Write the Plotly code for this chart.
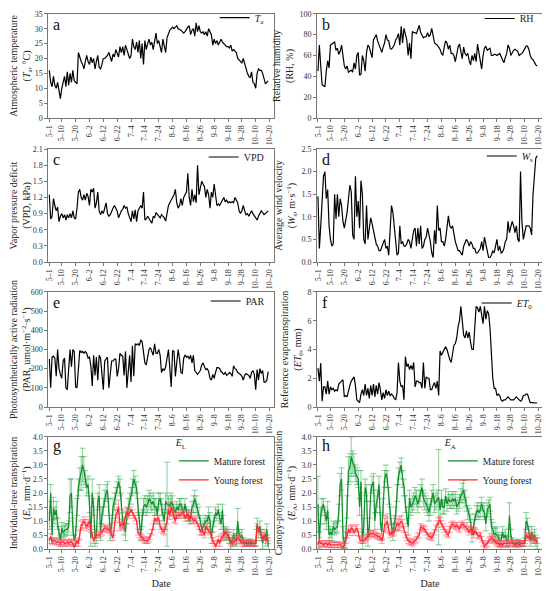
import plotly.graph_objects as go

# x axis: one point per sampled day, labelled every 10 points
tick_labels = ["5–1", "5–10", "5–20", "6–2", "6–12", "6–22", "7–4", "7–14", "7–24",
               "8–6", "8–16", "8–26", "9–8", "9–18", "9–28", "10–10", "10–20"]
tick_pos = [0, 9, 19, 29, 39, 49, 59, 69, 79, 89, 99, 109, 119, 129, 139, 149, 159]

# a) air temperature, degC
ta = [16, 12, 10.5, 14, 11, 10, 12, 8.5, 6.5, 10,
      12, 14, 10.5, 15.5, 11, 15, 12, 16, 12.5, 12,
      11.5, 22, 20, 19, 18, 16.5, 19, 21, 19, 18,
      20.5, 18.5, 20, 16.5, 19, 21, 17, 16.5, 18, 20,
      20, 20.5, 21, 22, 20, 19, 21.5, 20.5, 23, 21.5,
      20.5, 24, 22, 24, 21, 24.5, 23, 22, 20, 21,
      26.5, 24, 23, 25.5, 22, 26, 20, 25, 18, 26,
      23, 25, 26.5, 24.5, 25.5, 23, 26, 28.5, 25, 26,
      24, 22, 26.5, 24, 22, 27, 28.5, 29.5, 30, 30.5,
      30, 30.5, 31, 30, 29.8, 29.5, 29, 28.5, 29, 30,
      30.5, 31, 28, 29.5, 30, 27.5, 32, 29, 31, 29,
      28.5, 29, 28, 29, 27.5, 30, 29, 28, 24.5, 26.5,
      25, 26, 24.5, 25.5, 26.5, 25.5, 25, 24.5, 24, 24,
      23.5, 24.5, 22.5, 23, 22.5, 22, 20, 19.5, 19, 18.5,
      20, 18, 16, 15, 14, 13.5, 15.5, 12, 11.5, 10,
      15, 16.5, 16, 16, 15, 13, 11.5, 12, 12.5]

# b) relative humidity, %
rh = [45, 70, 50, 32, 31, 30, 45, 55, 48, 70,
      71, 72, 73, 65, 67, 61, 64, 70, 62, 50,
      47, 50, 44, 45, 46, 44, 53, 47, 60, 63,
      41, 42, 60, 55, 45, 63, 70, 68, 62, 58,
      75, 78, 80, 74, 70, 65, 63, 68, 72, 80,
      75, 74, 67, 66, 68, 70, 75, 77, 81, 70,
      88, 72, 86, 80, 75, 60, 72, 57, 83, 82,
      82, 81, 86, 89, 82, 80, 77, 78, 78, 82,
      78, 80, 86, 79, 72, 71, 70, 68, 66, 62,
      60, 68, 74, 72, 66, 70, 62, 62, 60, 54,
      62, 68, 71, 64, 57, 68, 62, 60, 62, 55,
      51, 60, 55, 62, 54, 71, 62, 52, 47, 60,
      67, 69, 65, 66, 67, 60, 60, 61, 61, 60,
      61, 62, 59, 55, 53, 58, 62, 70, 67, 60,
      63, 65, 66, 65, 64, 60, 61, 62, 64, 67,
      69, 69, 66, 60, 57, 56, 53, 51, 50]

# c) vapour pressure deficit, kPa
vpd = [1.25, 0.8, 0.85, 1.18, 1.05, 0.95, 1.02, 0.75, 0.85, 0.9,
       0.82, 0.88, 0.78, 0.88, 0.82, 0.9, 0.82, 0.95, 0.82, 0.8,
       1.0, 1.3, 1.35, 1.2, 1.15, 1.25, 1.15, 1.28, 1.22, 1.05,
       1.35, 1.3, 1.37, 1.0, 1.1, 1.3, 0.95, 0.88, 0.95, 0.9,
       1.0, 1.1, 0.9, 0.85, 0.88, 0.95, 1.0, 1.05, 1.0, 0.95,
       0.82, 0.9, 0.95, 0.98, 1.05, 1.0, 1.02, 0.9, 0.8, 0.75,
       0.95, 0.8, 0.97, 0.75, 0.95, 1.0, 1.05, 1.0, 1.3, 0.78,
       0.8, 0.85, 0.8, 0.75, 0.72, 0.85, 0.82, 0.92, 0.88, 0.85,
       0.82, 0.88, 0.85, 0.82, 0.76, 0.9, 1.05, 1.1, 1.15, 1.2,
       1.25, 1.35, 1.1, 1.0, 1.05, 1.18, 1.05, 1.2, 1.25, 1.3,
       1.65, 1.2, 1.05, 1.35, 1.12, 1.25, 1.1, 1.8, 1.25, 1.35,
       1.5, 1.45, 1.4, 1.2, 1.35, 1.25, 1.0, 1.3, 1.2, 1.45,
       1.2, 1.05, 1.08, 1.05, 1.1, 1.15, 1.2, 1.12, 1.15, 1.1,
       1.12, 1.1, 1.12, 1.1, 1.2, 1.15, 1.1, 0.95, 0.9, 0.95,
       1.05, 0.95, 0.88, 0.9, 0.85, 0.9, 0.95, 0.9, 0.85, 0.8,
       0.78, 0.85, 0.9, 0.95, 0.92, 0.88, 0.9, 0.92, 0.95]

# d) wind speed, m/s
ws = [1.45, 0.3, 0.8, 1.5, 1.9, 2.0, 1.4, 1.6, 0.8, 0.5,
      0.35, 0.4, 1.5, 0.95, 1.5, 1.0, 1.4, 1.25, 0.9, 0.75,
      0.9, 1.1, 1.4, 1.7, 1.55, 0.6, 0.5, 1.9, 1.0, 1.35,
      0.75, 1.8, 1.5, 0.5, 0.4, 1.25, 0.5, 0.7, 0.98, 0.85,
      0.7, 0.55, 0.4, 0.35, 0.25, 0.25, 0.35, 0.45, 0.5, 0.3,
      0.35, 0.15, 0.8, 1.25, 1.1, 0.8, 0.4, 0.15, 0.2, 0.8,
      0.4, 0.45, 0.35, 0.35, 0.4, 0.5, 0.45, 0.3, 0.5, 0.7,
      0.75, 0.35, 0.75, 0.4, 0.8, 0.3, 0.35, 0.5, 0.55, 0.75,
      0.6, 0.45, 0.2, 0.1, 0.7, 0.4, 1.25, 0.7, 0.75, 0.45,
      0.45, 0.35, 0.5, 0.8, 1.02, 0.8, 0.75, 0.8, 0.6, 0.45,
      0.35, 0.25, 0.25, 0.2, 0.15, 0.35, 0.45, 0.5, 0.45, 0.35,
      0.45, 0.4, 0.3, 0.3, 0.2, 0.2, 0.25, 0.3, 0.45, 0.25,
      0.55, 0.4, 0.2, 0.1, 0.1, 0.15, 0.25, 0.2, 0.35, 0.5,
      0.25, 0.35, 0.2, 0.22, 0.3, 0.45, 0.5, 0.9, 0.65, 0.75,
      0.9, 0.8, 0.65, 0.8, 0.5, 0.45, 2.0, 0.9, 0.5, 0.65,
      0.8, 0.8, 0.8, 0.75, 0.6, 1.5, 1.9, 2.3, 2.35]

# e) photosynthetically active radiation
par = [250, 100, 260, 265, 255, 160, 300, 200, 170, 150,
       240, 255, 100, 90, 200, 300, 210, 300, 290, 105,
       100, 200, 295, 285, 290, 280, 290, 280, 255, 260,
       215, 110, 270, 165, 260, 140, 270, 255, 170, 90,
       240, 250, 260, 100, 170, 240, 240, 250, 250, 160,
       200, 280, 270, 265, 165, 290, 100, 190, 270, 130,
       320, 160, 330, 325, 330, 320, 350, 340, 280, 230,
       220, 270, 300, 310, 290, 270, 330, 280, 280, 300,
       270, 180, 200, 190, 210, 250, 300, 200, 105, 295,
       290, 160, 230, 300, 250, 180, 175, 255, 270, 260,
       265, 250, 270, 230, 270, 190, 180, 170, 180, 190,
       220, 230, 210, 195, 200, 185, 150, 140, 170, 150,
       180, 205, 205, 200, 185, 175, 170, 180, 165, 170,
       180, 175, 160, 215, 200, 195, 180, 175, 170, 160,
       140, 165, 175, 170, 165, 150, 180, 190, 170, 90,
       195, 140, 200, 175, 190, 130, 130, 140, 185]

# f) reference evapotranspiration, mm
et0 = [2.7, 1.8, 3.05, 0.4, 1.4, 1.4, 0.9, 1.8, 0.9, 1.4,
       1.2, 1.3, 1.1, 1.2, 1.1, 1.6, 1.7, 1.8, 1.9, 0.7,
       0.8, 0.7, 1.2, 1.5, 1.8, 2.0, 2.1, 1.5, 0.5, 0.4,
       0.3, 0.9, 1.2, 0.8, 1.6, 0.8, 1.3, 0.6, 1.5, 0.8,
       1.6, 0.7, 1.5, 0.9, 1.7, 1.2, 0.5, 1.0, 0.6, 1.2,
       0.8, 1.1, 0.8, 0.9, 0.8, 0.6, 0.5, 1.0, 3.1, 1.8,
       1.4, 1.5, 0.5, 3.5, 2.8, 3.0, 2.6, 2.9, 2.6, 3.1,
       1.4, 1.8, 1.8, 1.7, 1.7, 1.3, 3.1, 1.3, 2.1, 2.0,
       2.0, 1.2, 1.2, 1.5, 1.7, 1.3, 1.8, 0.8, 3.9, 3.6,
       3.8, 4.0, 4.2, 4.0, 3.6, 3.3, 3.1, 3.6, 4.3, 4.4,
       4.8, 5.6, 6.0, 7.0, 6.2, 5.0, 4.8, 5.3, 4.8, 5.2,
       4.5, 4.0, 4.0, 5.5, 7.0, 6.9, 6.6, 7.0, 6.3, 5.8,
       7.0, 6.1, 6.7, 6.5, 5.5, 3.5, 2.0, 1.3, 1.3, 0.8,
       0.9, 0.8, 0.5, 0.4, 0.5, 0.5, 0.6, 0.7, 0.6, 0.5,
       0.5, 0.5, 0.6, 0.7, 0.6, 0.5, 0.4, 0.5, 0.8, 0.8,
       0.9, 0.9, 0.6, 0.3, 0.3, 0.3, 0.3, 0.28, 0.28]

# g) individual-tree transpiration E_L, mm/d (mean, sd)
el_mature = [1.0, 2.0, 0.5, 1.45, 1.2, 1.4, 0.9, 0.6, 0.3, 0.75,
             0.6, 0.65, 0.7, 0.7, 0.8, 1.9, 2.0, 0.8, 0.3, 0.5,
             1.5, 2.2, 2.5, 2.7, 3.0, 2.8, 2.5, 2.2, 2.3, 1.6,
             0.4, 2.0, 1.5, 0.4, 0.5, 1.7, 1.9, 0.6, 1.2, 1.5,
             1.8, 2.0, 2.1, 1.5, 0.6, 0.8, 1.5, 1.7, 1.9, 2.2,
             2.4, 2.2, 1.7, 1.0, 0.8, 0.6, 1.2, 1.5, 1.7, 1.9,
             2.2, 2.5, 2.3, 2.2, 1.5, 1.0, 0.5, 1.1, 1.5, 1.6,
             1.5, 1.6, 1.8, 1.7, 1.6, 1.7, 1.5, 1.5, 1.2, 1.7,
             1.8, 1.5, 1.3, 1.0, 1.7, 1.6, 1.6, 1.5, 1.7, 1.6,
             1.4, 1.3, 1.5, 1.4, 1.6, 1.6, 1.4, 1.3, 1.6, 1.3,
             1.2, 1.2, 1.1, 1.5, 1.6, 1.8, 1.6, 1.4, 1.3, 1.0,
             0.7, 0.8, 0.9, 1.0, 1.0, 1.2, 1.0, 0.4, 0.8, 1.0,
             1.3, 1.2, 1.4, 1.1, 0.9, 1.4, 0.5, 0.6, 0.55, 0.5,
             0.4, 0.2, 0.3, 0.5, 0.35, 0.3, 1.0, 0.5, 0.4, 0.5,
             0.3, 0.2, 0.25, 0.2, 0.25, 0.2, 0.25, 0.2, 0.2, 0.2,
             0.9, 0.6, 0.8, 0.5, 0.2, 0.5, 0.3, 0.7, 0.1]
el_mature_sd = [0.3, 0.3, 0.3, 0.4, 0.3, 0.3, 0.2, 0.2, 0.2, 0.2,
                0.2, 0.2, 0.2, 0.2, 0.2, 0.6, 0.5, 0.3, 0.2, 0.3,
                0.3, 0.3, 0.4, 0.6, 0.6, 0.5, 0.3, 0.3, 0.3, 0.3,
                0.3, 0.5, 0.3, 0.3, 0.3, 0.3, 0.4, 0.3, 0.3, 0.3,
                0.3, 0.3, 0.3, 0.3, 0.3, 0.3, 0.3, 0.3, 0.3, 0.2,
                0.2, 0.3, 0.3, 0.3, 0.3, 0.3, 0.3, 0.3, 0.3, 0.3,
                0.3, 0.3, 0.3, 0.2, 0.3, 0.3, 0.2, 0.3, 0.3, 0.3,
                0.3, 0.3, 0.3, 0.3, 0.3, 0.3, 0.3, 0.3, 0.3, 0.3,
                0.2, 0.3, 0.3, 0.3, 0.3, 1.5, 0.3, 0.3, 0.3, 0.3,
                0.2, 0.2, 0.2, 0.2, 0.2, 0.2, 0.2, 0.2, 0.2, 0.2,
                0.2, 0.2, 0.2, 0.2, 0.3, 0.3, 0.3, 0.2, 0.2, 0.2,
                0.2, 0.2, 0.2, 0.2, 0.2, 0.3, 0.3, 0.2, 0.2, 0.2,
                0.2, 0.2, 0.2, 0.2, 0.2, 0.2, 0.2, 0.2, 0.2, 0.2,
                0.2, 0.2, 0.2, 0.2, 0.2, 0.2, 0.45, 0.2, 0.2, 0.2,
                0.1, 0.1, 0.1, 0.1, 0.1, 0.1, 0.1, 0.1, 0.1, 0.1,
                0.2, 0.2, 0.2, 0.2, 0.2, 0.2, 0.2, 0.2, 0.2]
el_young = [0.3, 0.45, 0.25, 0.3, 0.3, 0.25, 0.25, 0.25, 0.2, 0.25,
            0.25, 0.2, 0.2, 0.25, 0.2, 0.25, 0.25, 0.2, 0.05, 0.2,
            0.3, 0.2, 0.5, 0.85, 0.9, 1.0, 0.9, 0.8, 0.9, 1.0,
            0.7, 0.5, 0.3, 0.4, 0.5, 0.5, 0.5, 0.55, 0.6, 0.7,
            0.75, 0.75, 0.7, 0.7, 0.65, 0.5, 0.4, 0.8, 1.2, 1.3,
            1.5, 0.8, 0.9, 0.85, 0.85, 1.2, 1.3, 1.2, 1.3, 1.4,
            1.3, 1.2, 1.1, 1.0, 0.6, 0.5, 0.45, 0.4, 0.35, 0.3,
            0.3, 0.3, 0.35, 0.45, 0.6, 0.8, 1.1, 1.0, 1.1, 1.1,
            0.8, 0.7, 0.65, 0.6, 0.8, 1.0, 1.4, 1.2, 1.5, 1.3,
            1.1, 1.0, 1.2, 1.2, 1.2, 1.25, 1.3, 1.3, 1.1, 1.2,
            1.25, 1.0, 1.2, 1.1, 1.0, 1.05, 1.0, 0.9, 0.8, 0.6,
            0.7, 0.6, 0.5, 0.8, 0.7, 0.65, 0.6, 0.5, 0.3, 0.2,
            0.1, 0.2, 0.35, 0.2, 0.4, 0.45, 0.5, 0.6, 0.55, 0.5,
            0.3, 0.25, 0.2, 0.25, 0.3, 0.35, 0.4, 0.35, 0.3, 0.25,
            0.2, 0.2, 0.2, 0.2, 0.2, 0.25, 0.2, 0.2, 0.2, 0.2,
            0.8, 0.7, 0.6, 0.5, 0.4, 0.45, 0.5, 0.3, 0.3]
el_young_sd = [0.1, 0.1, 0.1, 0.1, 0.1, 0.1, 0.1, 0.1, 0.1, 0.1,
               0.1, 0.1, 0.1, 0.1, 0.1, 0.1, 0.1, 0.1, 0.1, 0.1,
               0.1, 0.1, 0.15, 0.15, 0.15, 0.15, 0.15, 0.15, 0.15, 0.15,
               0.1, 0.1, 0.1, 0.1, 0.1, 0.1, 0.1, 0.1, 0.1, 0.1,
               0.1, 0.1, 0.1, 0.1, 0.1, 0.1, 0.1, 0.15, 0.2, 0.2,
               0.25, 0.15, 0.15, 0.1, 0.1, 0.15, 0.15, 0.1, 0.1, 0.1,
               0.1, 0.1, 0.1, 0.1, 0.1, 0.1, 0.1, 0.1, 0.1, 0.1,
               0.1, 0.1, 0.1, 0.1, 0.1, 0.1, 0.1, 0.1, 0.1, 0.1,
               0.1, 0.1, 0.1, 0.1, 0.1, 0.1, 0.15, 0.15, 0.15, 0.15,
               0.15, 0.1, 0.1, 0.1, 0.1, 0.1, 0.1, 0.1, 0.1, 0.1,
               0.1, 0.1, 0.1, 0.1, 0.1, 0.1, 0.1, 0.1, 0.1, 0.1,
               0.1, 0.1, 0.1, 0.1, 0.1, 0.1, 0.1, 0.1, 0.1, 0.1,
               0.1, 0.1, 0.1, 0.1, 0.1, 0.1, 0.1, 0.1, 0.1, 0.1,
               0.1, 0.1, 0.1, 0.1, 0.1, 0.1, 0.1, 0.1, 0.1, 0.1,
               0.1, 0.1, 0.1, 0.1, 0.1, 0.1, 0.1, 0.1, 0.1, 0.1,
               0.1, 0.1, 0.1, 0.1, 0.1, 0.1, 0.1, 0.1, 0.1]

# h) canopy-projected transpiration E_A, mm/d (mean, sd)
ea_mature = [1.6, 0.3, 1.2, 1.5, 1.6, 1.2, 1.0, 1.4, 0.5, 0.6,
             0.5, 0.8, 0.7, 0.75, 0.8, 1.3, 2.3, 2.5, 0.5, 0.2,
             0.3, 1.5, 2.8, 2.9, 3.3, 3.1, 3.0, 2.7, 2.6, 2.5,
             1.5, 2.4, 0.3, 0.8, 2.2, 2.0, 0.4, 0.8, 2.0, 2.3,
             2.4, 1.0, 1.6, 1.8, 2.3, 1.0, 0.6, 1.5, 2.5, 2.7,
             2.5, 1.9, 1.2, 0.8, 0.6, 0.9, 1.2, 2.0, 2.6, 2.8,
             3.0, 2.5, 2.2, 1.6, 1.2, 0.8, 1.8, 1.5, 1.6, 1.7,
             1.9, 1.8, 1.6, 1.8, 2.0, 2.2, 1.8, 1.7, 1.6, 1.5,
             1.3, 1.5, 1.8, 2.0, 1.6, 1.7, 1.8, 1.85, 1.4, 1.8,
             1.5, 1.5, 1.9, 1.6, 1.8, 1.7, 1.7, 1.8, 1.7, 1.8,
             1.5, 1.6, 1.7, 1.9, 2.0, 2.1, 1.8, 1.6, 1.3, 1.2,
             1.0, 0.5, 0.8, 1.0, 1.3, 1.4, 1.3, 1.4, 1.6, 1.4,
             1.3, 0.9, 1.4, 1.5, 1.6, 0.8, 0.7, 0.5, 0.55, 0.5,
             0.4, 0.3, 0.3, 0.6, 0.4, 0.5, 0.3, 0.25, 1.2, 0.5,
             0.3, 0.2, 0.2, 0.25, 0.2, 0.25, 0.2, 0.2, 0.2, 0.3,
             1.0, 0.9, 0.6, 0.3, 0.6, 0.4, 0.5, 0.3, 0.2]
ea_mature_sd = [1.0, 0.3, 0.3, 0.3, 0.2, 0.3, 0.3, 0.3, 0.2, 0.2,
                0.2, 0.2, 0.2, 0.2, 0.2, 0.3, 0.4, 0.4, 0.3, 0.2,
                0.3, 0.4, 0.5, 0.5, 0.7, 0.4, 0.4, 0.3, 0.3, 0.3,
                0.3, 0.4, 0.3, 0.3, 0.3, 0.3, 0.3, 0.3, 0.3, 0.3,
                0.3, 0.3, 0.3, 0.3, 0.3, 0.3, 0.3, 0.3, 0.3, 0.3,
                0.3, 0.3, 0.3, 0.3, 0.3, 0.3, 0.3, 0.3, 0.3, 0.3,
                0.25, 0.3, 0.3, 0.3, 0.3, 0.3, 0.3, 0.3, 0.3, 0.3,
                0.3, 0.3, 0.3, 0.3, 0.3, 0.3, 0.3, 0.3, 0.3, 0.3,
                0.3, 0.3, 0.3, 0.3, 0.3, 0.3, 0.3, 1.7, 0.3, 0.3,
                0.25, 0.25, 0.25, 0.25, 0.25, 0.25, 0.25, 0.25, 0.25, 0.25,
                0.25, 0.25, 0.25, 0.25, 0.35, 0.35, 0.3, 0.25, 0.25, 0.25,
                0.25, 0.25, 0.25, 0.25, 0.25, 0.25, 0.25, 0.25, 0.25, 0.25,
                0.25, 0.25, 0.25, 0.25, 0.25, 0.25, 0.25, 0.25, 0.25, 0.25,
                0.2, 0.2, 0.2, 0.2, 0.2, 0.2, 0.2, 0.2, 0.45, 0.2,
                0.1, 0.1, 0.1, 0.1, 0.1, 0.1, 0.1, 0.1, 0.1, 0.1,
                0.3, 0.2, 0.2, 0.2, 0.2, 0.2, 0.2, 0.2, 0.2]
ea_young = [0.15, 0.3, 0.2, 0.2, 0.15, 0.2, 0.2, 0.15, 0.2, 0.15,
            0.15, 0.15, 0.15, 0.15, 0.15, 0.15, 0.15, 0.1, 0.05, 0.15,
            0.3, 0.5, 0.7, 0.6, 0.75, 0.7, 0.6, 0.7, 0.75, 0.6,
            0.35, 0.3, 0.3, 0.3, 0.35, 0.4, 0.45, 0.5, 0.55, 0.55,
            0.55, 0.5, 0.5, 0.45, 0.45, 0.4, 0.3, 0.5, 0.85, 0.9,
            1.0, 0.7, 0.5, 0.6, 0.55, 0.6, 0.8, 0.9, 0.85, 0.9,
            1.0, 0.9, 0.7, 0.5, 0.4, 0.3, 0.25, 0.25, 0.2, 0.25,
            0.3, 0.35, 0.45, 0.5, 0.8, 0.75, 0.75, 0.7, 0.6, 0.5,
            0.45, 0.45, 0.4, 0.5, 0.6, 0.75, 0.9, 1.0, 1.05, 0.9,
            0.8, 0.7, 0.6, 0.55, 0.5, 0.7, 0.85, 0.9, 0.85, 0.8,
            0.85, 0.75, 0.7, 0.85, 0.9, 0.85, 0.8, 0.75, 0.7, 0.6,
            0.7, 0.7, 0.5, 0.65, 0.6, 0.5, 0.45, 0.5, 0.35, 0.2,
            0.1, 0.15, 0.2, 0.3, 0.35, 0.4, 0.35, 0.3, 0.25, 0.2,
            0.2, 0.15, 0.2, 0.15, 0.2, 0.2, 0.2, 0.2, 0.2, 0.25,
            0.2, 0.2, 0.15, 0.2, 0.2, 0.15, 0.2, 0.2, 0.2, 0.2,
            0.5, 0.45, 0.4, 0.5, 0.35, 0.4, 0.3, 0.3, 0.3]
ea_young_sd = [0.1, 0.1, 0.1, 0.1, 0.1, 0.1, 0.1, 0.1, 0.1, 0.1,
               0.1, 0.1, 0.1, 0.1, 0.1, 0.1, 0.1, 0.1, 0.1, 0.1,
               0.1, 0.1, 0.12, 0.12, 0.12, 0.12, 0.12, 0.12, 0.12, 0.12,
               0.1, 0.1, 0.1, 0.1, 0.1, 0.1, 0.1, 0.1, 0.1, 0.1,
               0.1, 0.1, 0.1, 0.1, 0.1, 0.1, 0.1, 0.15, 0.25, 0.25,
               0.25, 0.15, 0.1, 0.1, 0.1, 0.1, 0.15, 0.2, 0.2, 0.25,
               0.2, 0.15, 0.1, 0.1, 0.1, 0.1, 0.1, 0.1, 0.1, 0.1,
               0.1, 0.1, 0.1, 0.1, 0.1, 0.1, 0.1, 0.1, 0.1, 0.1,
               0.1, 0.1, 0.1, 0.1, 0.1, 0.1, 0.12, 0.12, 0.12, 0.12,
               0.1, 0.1, 0.1, 0.1, 0.1, 0.1, 0.1, 0.1, 0.1, 0.1,
               0.1, 0.1, 0.1, 0.1, 0.1, 0.1, 0.1, 0.1, 0.1, 0.1,
               0.1, 0.1, 0.1, 0.1, 0.1, 0.1, 0.1, 0.1, 0.1, 0.1,
               0.1, 0.1, 0.1, 0.1, 0.1, 0.1, 0.1, 0.1, 0.1, 0.1,
               0.1, 0.1, 0.1, 0.1, 0.1, 0.1, 0.1, 0.1, 0.1, 0.1,
               0.1, 0.1, 0.1, 0.1, 0.1, 0.1, 0.1, 0.1, 0.1, 0.1,
               0.1, 0.1, 0.1, 0.1, 0.1, 0.1, 0.1, 0.1, 0.1]

days = list(range(len(ta)))

FONT = "Liberation Serif"
GREEN = "#13902e"
RED = "#ff2b2b"
GREEN_ERR = "rgba(40,170,70,0.55)"
RED_ERR = "rgba(255,80,110,0.55)"

# the page body adds an 8px offset, so the figure is a bit smaller than the window
W, H = 542, 583
cols = [[0.0744, 0.4908], [0.5701, 0.9871]]
rows = [[0.8113, 0.99], [0.5643, 0.7581], [0.3156, 0.5129], [0.0720, 0.2642]]
legend_y = [0.9835, 0.982, 0.7444, 0.7461, 0.4974, 0.494]

panels = [
    ("a", ta, "<i>T</i><sub>a</sub>", "Atmospheric temperature<br>(<i>T</i><sub>a</sub>, °C)", [0, 35], 5, ""),
    ("b", rh, "RH", "Relative humidity<br>(RH, %)", [0, 100], 20, ""),
    ("c", vpd, "VPD", "Vapor pressure deficit<br>(VPD, kPa)", [0, 2.1], 0.3, ".1f"),
    ("d", ws, "<i>W</i><sub>s</sub>", "Average wind velocity<br>(<i>W</i><sub>s</sub>, m·s<sup>−1</sup>)", [0, 2.5], 0.5, ".1f"),
    ("e", par, "PAR", "Photosynthetically active radiation<br>(PAR, umol·m<sup>−2</sup>·s<sup>−1</sup>)", [0, 600], 100, ""),
    ("f", et0, "<i>ET</i><sub>0</sub>", "Reference evapotranspiration<br>(<i>ET</i><sub>0</sub>, mm)", [0, 8], 2, ""),
    ("g", None, "<i>E</i><sub>L</sub>", "Individual-tree transpiration<br>(<i>E</i><sub>L</sub>, mm·d<sup>−1</sup>)", [0, 4], 0.5, ".1f"),
    ("h", None, "<i>E</i><sub>A</sub>", "Canopy-projected transpiration<br>(<i>E</i><sub>A</sub>, mm·d<sup>−1</sup>)", [0, 4], 0.5, ".1f"),
]
forest = {
    "g": (el_mature, el_mature_sd, el_young, el_young_sd),
    "h": (ea_mature, ea_mature_sd, ea_young, ea_young_sd),
}

fig = go.Figure()
axis_style = dict(showline=True, linecolor="#777", linewidth=1, mirror=True,
                  ticks="outside", ticklen=3, tickcolor="#777", showgrid=False,
                  zeroline=False, tickfont=dict(family=FONT, size=8, color="#333"))

for k, (letter, ys, name, ytitle, yr, dt, fmt) in enumerate(panels):
    n = k + 1
    r, c = k // 2, k % 2
    sfx = "" if n == 1 else str(n)
    xa, ya = "x" + sfx, "y" + sfx
    lg = "legend" + sfx

    if ys is not None:
        fig.add_trace(go.Scatter(x=days, y=ys, mode="lines", name=name,
                                 line=dict(color="black", width=1.2),
                                 xaxis=xa, yaxis=ya, legend=lg))
        fig.layout[lg] = dict(x=cols[c][1] - 0.008, y=legend_y[k],
                              xanchor="right", yanchor="middle", bgcolor="rgba(0,0,0,0)",
                              font=dict(family=FONT, size=10, color="#222"),
                              itemwidth=30, tracegroupgap=0)
    else:
        m, msd, yv, ysd = forest[letter]
        fig.add_trace(go.Scatter(x=days, y=m, mode="lines", name="Mature forest",
                                 line=dict(color=GREEN, width=1.3),
                                 error_y=dict(type="data", array=msd, color=GREEN_ERR,
                                              thickness=1, width=3),
                                 xaxis=xa, yaxis=ya, legend=lg))
        fig.add_trace(go.Scatter(x=days, y=yv, mode="lines", name="Young forest",
                                 line=dict(color=RED, width=1.3),
                                 error_y=dict(type="data", array=ysd, color=RED_ERR,
                                              thickness=1, width=3),
                                 xaxis=xa, yaxis=ya, legend=lg))
        fig.layout[lg] = dict(x=cols[c][1] - 0.006, y=rows[r][1] + 0.006,
                              xanchor="right", yanchor="top", bgcolor="rgba(0,0,0,0)",
                              title=dict(text=name, side="top",
                                         font=dict(family=FONT, size=10, color="#222")),
                              font=dict(family=FONT, size=9.5, color="#222"),
                              itemwidth=30, tracegroupgap=0)

    xaxis = dict(axis_style, domain=cols[c], anchor=ya, range=[-0.7, 162.2],
                 tickmode="array", tickvals=tick_pos, ticktext=tick_labels, tickangle=-90)
    if letter in ("g", "h"):
        xaxis["title"] = dict(text="Date", font=dict(family=FONT, size=10, color="#222"),
                              standoff=4)
    yaxis = dict(axis_style, domain=rows[r], anchor=xa, range=yr, dtick=dt, tick0=0,
                 tickformat=fmt,
                 title=dict(text=ytitle, font=dict(family=FONT, size=10, color="#222"),
                            standoff=3))
    fig.layout["xaxis" + sfx] = xaxis
    fig.layout["yaxis" + sfx] = yaxis

    fig.add_annotation(text=letter, x=0.012, y=1.02 if letter in ("g", "h") else 1.0,
                       xref=xa + " domain", yref=ya + " domain",
                       xanchor="left", yanchor="top", showarrow=False,
                       font=dict(family=FONT, size=16, color="#111"))

fig.update_layout(width=W, height=H,
                  margin=dict(l=0, r=0, t=0, b=0, autoexpand=False),
                  plot_bgcolor="white", paper_bgcolor="white", showlegend=True,
                  font=dict(family=FONT))

fig.write_html("out.html")
